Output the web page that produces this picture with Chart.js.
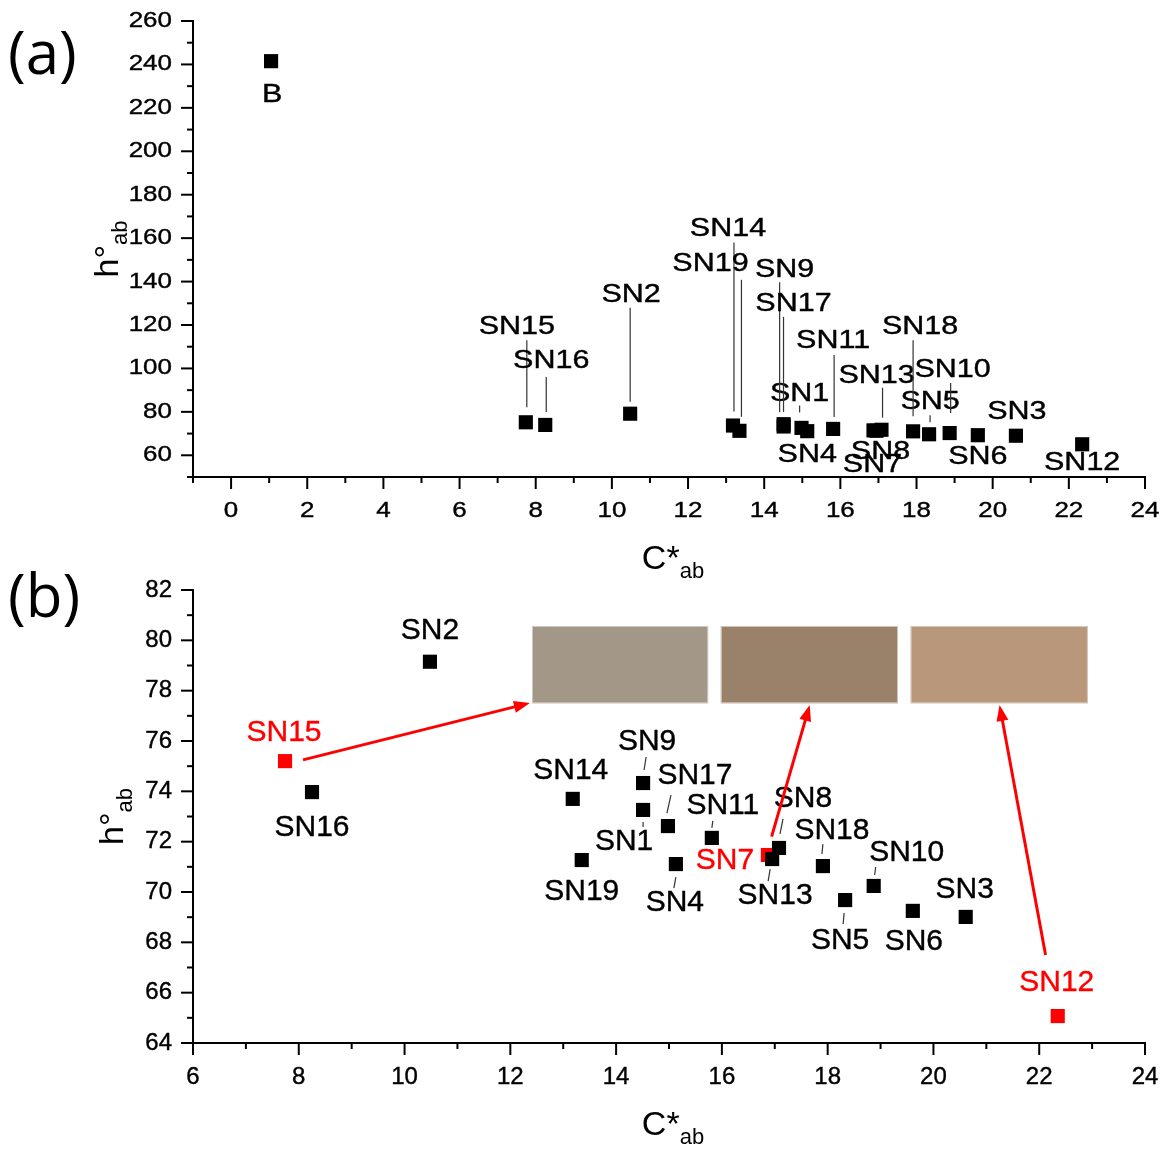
<!DOCTYPE html>
<html>
<head>
  <meta charset="UTF-8">
  <title>Hue angle vs chroma</title>
  <script src="https://cdn.jsdelivr.net/npm/chart.js"></script>
  <style>
    body { margin: 0; background: #fff; width: 1165px; height: 1149px; position: relative; overflow: hidden; }
    .pane { position: absolute; left: 0; width: 1165px; }
    #wrapA { top: 0; height: 600px; z-index: 1; }
    #wrapB { top: 570px; height: 579px; z-index: 2; }
  </style>
</head>
<body>
  <div class="pane" id="wrapA"><canvas id="chartA" width="1165" height="600"></canvas></div>
  <div class="pane" id="wrapB"><canvas id="chartB" width="1165" height="579"></canvas></div>

  <script>
    // samples
    const sampleNames = ['SN1', 'SN2', 'SN3', 'SN4', 'SN5', 'SN6', 'SN7', 'SN8', 'SN9', 'SN10',
                         'SN11', 'SN12', 'SN13', 'SN14', 'SN15', 'SN16', 'SN17', 'SN18', 'SN19'];
    const chroma = [14.51, 10.48, 20.61, 15.13, 18.33, 19.61, 16.87, 17.08, 14.51, 18.87,
                    15.81, 22.35, 16.95, 13.18, 7.74, 8.25, 14.98, 17.91, 13.35];
    const hue = [73.26, 79.15, 69.01, 71.11, 69.68, 69.25, 71.47, 71.75, 74.33, 70.24,
                 72.15, 65.07, 71.31, 73.70, 75.20, 73.97, 72.62, 71.03, 71.27];
    const blankName = 'B';
    const blankChroma = 1.05;
    const blankHue = 241.5;
    const highlighted = ['SN15', 'SN7', 'SN12'];

    const xTicksA = ['0', '2', '4', '6', '8', '10', '12', '14', '16', '18', '20', '22', '24'];
    const yTicksA = ['60', '80', '100', '120', '140', '160', '180', '200', '220', '240', '260'];
    const xTicksB = ['6', '8', '10', '12', '14', '16', '18', '20', '22', '24'];
    const yTicksB = ['64', '66', '68', '70', '72', '74', '76', '78', '80', '82'];

    // colour swatches in panel (b), in chart units
    const swatchColors = ['#a39888', '#9a826a', '#b8977b'];
    const swatchChroma = [[12.41, 15.74], [15.98, 19.33], [19.57, 22.92]];
    const swatchHue = [77.5, 80.57];
    const arrowFrom = [[8.08, 75.25], [16.94, 72.2], [22.12, 67.5]];
    const arrowTo = [[12.37, 77.51], [17.66, 77.43], [21.25, 77.43]];

    const FONT = '"Liberation Sans", Arial, sans-serif';
    const RED = '#ff0000';

    // label placement relative to marker (px): [dx, dy, leaderX1, leaderY1, leaderX2, leaderY2]
    const placeA = {
      B: [1, 34],
      SN1: [16, -32, 16, -21, 16, -14],
      SN2: [1, -119, 0, -106, 0, -12],
      SN3: [1, -24],
      SN4: [0, 24],
      SN5: [1, -32, 1, -19, 1, -12],
      SN6: [0, 22],
      SN7: [-1, 35],
      SN8: [-1, 22],
      SN9: [1, -154, -4, -142, -4, -12],
      SN10: [3, -63, 1, -50, 1, -20],
      SN11: [0, -88, 1, -74, 1, -12],
      SN12: [0, 19],
      SN13: [0, -55, 6, -43, 6, -13],
      SN14: [-5, -196, 1, -183, 1, -14],
      SN15: [-9, -95, 1, -82, 1, -15],
      SN16: [6, -64, 1, -48, 1, -13],
      SN17: [-8, -124, -18, -111, -18, -16],
      SN18: [7, -104, 0, -91, 0, -15],
      SN19: [-29, -167, 2, -151, 2, -14]
    };
    const placeB = {
      SN1: [-19, 32, 0, 12, 0, 17],
      SN2: [0, -31],
      SN3: [-1, -27],
      SN4: [-1, 39, 0, 13, -2, 24],
      SN5: [-5, 41, -1, 13, -2, 24],
      SN6: [1, 31],
      SN7: [-43, 6],
      SN8: [24, -49, 4, -29, 1, -14],
      SN9: [4, -41, 3, -26, 1, -13],
      SN10: [33, -33, 2, -19, 1, -11],
      SN11: [11, -32, 1, -17, 0, -10],
      SN12: [-1, -33],
      SN13: [3, 37, -2, 10, -4, 22],
      SN14: [-2, -28],
      SN15: [-1, -28],
      SN16: [0, 36],
      SN17: [27, -50, 3, -31, -1, -13],
      SN18: [9, -35, 0, -22, -1, -12],
      SN19: [0, 32]
    };

    function txt(ctx, s, x, y, size, o) {
      o = o || {};
      ctx.save();
      ctx.translate(x, y);
      ctx.scale(o.sx || 1, 1);
      ctx.font = size + 'px ' + (o.family || FONT);
      ctx.fillStyle = o.color || '#000';
      ctx.textAlign = o.align || 'center';
      ctx.textBaseline = 'middle';
      ctx.fillText(s, 0, 0);
      if (o.weight) {
        ctx.strokeStyle = o.color || '#000';
        ctx.lineWidth = o.weight;
        ctx.strokeText(s, 0, 0);
      }
      ctx.restore();
    }

    function subText(ctx, main, sub, cx, cy, rot) {
      ctx.save();
      ctx.translate(cx, cy);
      ctx.rotate(rot);
      ctx.fillStyle = '#000';
      ctx.textAlign = 'left';
      ctx.textBaseline = 'alphabetic';
      ctx.font = '34px ' + FONT;
      const w1 = ctx.measureText(main).width;
      ctx.font = '22px ' + FONT;
      const w2 = ctx.measureText(sub).width;
      const x0 = -(w1 + w2) / 2;
      ctx.font = '34px ' + FONT;
      ctx.fillText(main, x0, 0);
      ctx.font = '22px ' + FONT;
      ctx.fillText(sub, x0 + w1, 9);
      ctx.restore();
    }

    function drawAxes(chart, cfg) {
      const { ctx, chartArea: a, scales: { x, y } } = chart;
      ctx.save();
      ctx.strokeStyle = '#000';
      ctx.lineWidth = 2;
      x.ticks.forEach(t => {
        const px = x.getPixelForValue(t.value);
        const len = t.value % cfg.xMajor === 0 ? 12 : 6;
        ctx.beginPath(); ctx.moveTo(px, a.bottom); ctx.lineTo(px, a.bottom + len); ctx.stroke();
      });
      y.ticks.forEach(t => {
        const py = y.getPixelForValue(t.value);
        const len = t.value % cfg.yMajor === 0 ? 12 : 6;
        ctx.beginPath(); ctx.moveTo(a.left, py); ctx.lineTo(a.left - len, py); ctx.stroke();
      });
      ctx.restore();
      cfg.xLabels.forEach(s => txt(ctx, s, x.getPixelForValue(+s), a.bottom + 34, cfg.tickSize, { sx: cfg.tickSx, weight: 0.4 }));
      cfg.yLabels.forEach(s => txt(ctx, s, a.left - 21, y.getPixelForValue(+s), cfg.tickSize, { sx: cfg.tickSx, align: 'right', weight: 0.4 }));
      subText(ctx, 'C*', 'ab', (a.left + a.right) / 2 + 4, a.bottom + 92, 0);
      subText(ctx, 'h°', 'ab', cfg.yTitleX, (a.top + a.bottom) / 2, -Math.PI / 2);
      txt(ctx, cfg.tag, 8, cfg.tagY, 60, { family: '"Open Sans", sans-serif', align: 'left' });
    }

    function drawLabels(chart, cfg) {
      const ctx = chart.ctx;
      const pts = chart.getDatasetMeta(0).data;
      cfg.names.forEach((name, i) => {
        const p = cfg.place[name];
        const el = pts[i];
        if (!p || !el) return;
        const color = cfg.red && highlighted.includes(name) ? RED : '#000';
        if (p.length > 2) {
          ctx.save();
          ctx.strokeStyle = '#333';
          ctx.lineWidth = 1.2;
          ctx.beginPath();
          ctx.moveTo(el.x + p[2], el.y + p[3]);
          ctx.lineTo(el.x + p[4], el.y + p[5]);
          ctx.stroke();
          ctx.restore();
        }
        txt(ctx, name, el.x + p[0], el.y + p[1], cfg.labelSize, { sx: cfg.labelSx, color: color, weight: 0.4 });
      });
    }

    function drawSwatches(chart) {
      const { ctx, scales: { x, y } } = chart;
      ctx.save();
      swatchColors.forEach((c, i) => {
        const l = x.getPixelForValue(swatchChroma[i][0]);
        const r = x.getPixelForValue(swatchChroma[i][1]);
        const top = y.getPixelForValue(swatchHue[1]);
        const bot = y.getPixelForValue(swatchHue[0]);
        ctx.fillStyle = c;
        ctx.fillRect(l, top, r - l, bot - top);
        ctx.strokeStyle = 'rgba(215,205,195,0.9)';
        ctx.lineWidth = 1;
        ctx.strokeRect(l + 0.5, top + 0.5, r - l - 1, bot - top - 1);
      });
      ctx.restore();
    }

    function drawArrows(chart) {
      const { ctx, scales: { x, y } } = chart;
      ctx.save();
      ctx.strokeStyle = RED;
      ctx.fillStyle = RED;
      ctx.lineWidth = 3;
      arrowFrom.forEach((f, i) => {
        const t = arrowTo[i];
        const x1 = x.getPixelForValue(f[0]), y1 = y.getPixelForValue(f[1]);
        const x2 = x.getPixelForValue(t[0]), y2 = y.getPixelForValue(t[1]);
        const ang = Math.atan2(y2 - y1, x2 - x1);
        const cs = Math.cos(ang), sn = Math.sin(ang);
        const head = 16, half = 6;
        ctx.beginPath();
        ctx.moveTo(x1, y1);
        ctx.lineTo(x2 - cs * head * 0.8, y2 - sn * head * 0.8);
        ctx.stroke();
        ctx.beginPath();
        ctx.moveTo(x2, y2);
        ctx.lineTo(x2 - cs * head + sn * half, y2 - sn * head - cs * half);
        ctx.lineTo(x2 - cs * head - sn * half, y2 - sn * head + cs * half);
        ctx.closePath();
        ctx.fill();
      });
      ctx.restore();
    }

    function decor(cfg) {
      return {
        id: 'decor',
        beforeDatasetsDraw(chart) { if (cfg.swatches) drawSwatches(chart); },
        afterDatasetsDraw(chart) {
          drawAxes(chart, cfg);
          drawLabels(chart, cfg);
          if (cfg.arrows) drawArrows(chart);
        }
      };
    }

    function axis(min, max, step, size) {
      return {
        type: 'linear', min: min, max: max,
        ticks: { display: false, stepSize: step, maxTicksLimit: 200 },
        grid: { display: false },
        border: { display: true, color: '#000', width: 2 },
        afterFit: size
      };
    }

    const pointsA = chroma.map((c, i) => ({ x: c, y: hue[i] }));
    pointsA.push({ x: blankChroma, y: blankHue });
    const pointsB = chroma.map((c, i) => ({ x: c, y: hue[i] }));

    new Chart(document.getElementById('chartA'), {
      type: 'scatter',
      data: {
        datasets: [{
          data: pointsA,
          pointStyle: 'rect', pointRadius: 10, pointHoverRadius: 10,
          backgroundColor: '#000', borderWidth: 0
        }]
      },
      options: {
        responsive: false, animation: false, devicePixelRatio: 1,
        layout: { padding: { top: 21, right: 20, bottom: 0, left: 0 }, autoPadding: false },
        plugins: { legend: { display: false }, tooltip: { enabled: false } },
        scales: {
          x: axis(-1, 24, 1, s => { s.height = 123; }),
          y: axis(50, 260, 10, s => { s.width = 193; })
        }
      },
      plugins: [decor({
        names: sampleNames.concat([blankName]), place: placeA, red: false,
        xMajor: 2, yMajor: 20, xLabels: xTicksA, yLabels: yTicksA,
        tickSize: 22, tickSx: 1.18, labelSize: 25, labelSx: 1.22,
        tag: '(a)', tagY: 57, yTitleX: 118
      })]
    });

    new Chart(document.getElementById('chartB'), {
      type: 'scatter',
      data: {
        datasets: [{
          data: pointsB,
          pointStyle: 'rect', pointRadius: 10, pointHoverRadius: 10,
          backgroundColor: sampleNames.map(n => highlighted.includes(n) ? RED : '#000'),
          borderWidth: 0
        }]
      },
      options: {
        responsive: false, animation: false, devicePixelRatio: 1,
        layout: { padding: { top: 20, right: 20, bottom: 0, left: 0 }, autoPadding: false },
        plugins: { legend: { display: false }, tooltip: { enabled: false } },
        scales: {
          x: axis(6, 24, 1, s => { s.height = 106; }),
          y: axis(64, 82, 1, s => { s.width = 193; })
        }
      },
      plugins: [decor({
        names: sampleNames, place: placeB, red: true, swatches: true, arrows: true,
        xMajor: 2, yMajor: 2, xLabels: xTicksB, yLabels: yTicksB,
        tickSize: 24, tickSx: 1, labelSize: 30, labelSx: 1,
        tag: '(b)', tagY: 30, yTitleX: 123
      })]
    });
  </script>
</body>
</html>
